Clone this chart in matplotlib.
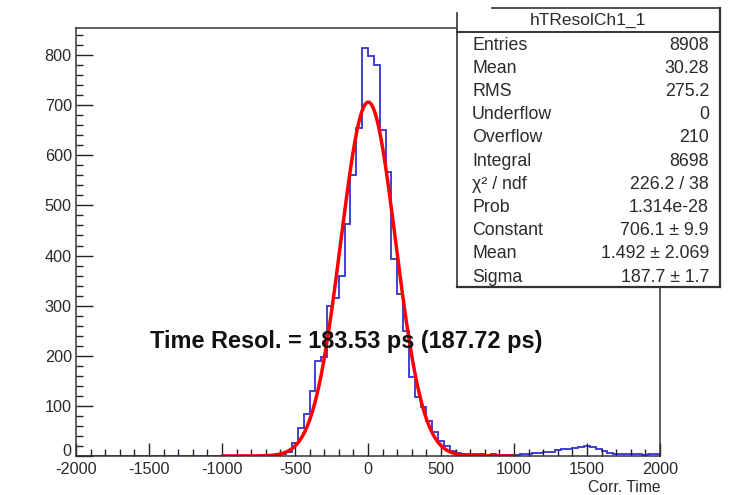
import numpy as np
import matplotlib
matplotlib.use('Agg')
import matplotlib.pyplot as plt
from matplotlib.lines import Line2D
from matplotlib.patches import Rectangle

plt.rcParams['font.family'] = ['Liberation Sans', 'DejaVu Sans']

# ---------------- data ----------------
bin_edges = np.arange(-2000, 2001, 40)
counts_left = [0] * 34 + [1, 3, 8, 25, 55, 84, 130, 190, 197, 300, 315, 360, 463, 560, 655, 815]
counts_right = [798, 781, 650, 567, 393, 323, 250, 157, 117, 97, 70, 47, 30, 20, 10, 6,
                4, 4, 3, 3, 2, 3, 2, 2, 2,
                2, 3, 4, 5, 6, 7, 8, 11, 13, 14, 16, 18, 19, 17, 14, 10, 6, 4, 4, 3, 3, 3, 2, 3, 3]
counts = np.array(counts_left + counts_right)

fit_constant = 706.1
fit_mean = 1.492
fit_sigma = 187.7
fit_range = (-1000, 1000)

xticks_major = [-2000, -1500, -1000, -500, 0, 500, 1000, 1500, 2000]
xtick_labels = ['-2000', '-1500', '-1000', '-500', '0', '500', '1000', '1500', '2000']
yticks_major = [0, 100, 200, 300, 400, 500, 600, 700, 800]
ytick_labels = ['0', '100', '200', '300', '400', '500', '600', '700', '800']

hist_title = 'hTResolCh1_1'
stat_names = ['Entries', 'Mean', 'RMS', 'Underflow', 'Overflow', 'Integral',
              'χ² / ndf', 'Prob', 'Constant', 'Mean', 'Sigma']
stat_values = ['8908', '30.28', '275.2', '0', '210', '8698', '226.2 / 38',
               '1.314e-28', '706.1 ± 9.9', '1.492 ± 2.069', '187.7 ± 1.7']
annotation = 'Time Resol. = 183.53 ps (187.72 ps)'
x_title = 'Corr. Time'

# ---------------- layout ----------------
W, H = 731, 495
fig = plt.figure(figsize=(W / 100, H / 100), dpi=100)


def fx(px):
    return px / W


def fy(py):
    return 1 - py / H


ax_l, ax_r, ax_t, ax_b = 76, 660, 28, 456
ax = fig.add_axes([fx(ax_l), fy(ax_b), (ax_r - ax_l) / W, (ax_b - ax_t) / H])

ax.stairs(counts, bin_edges, color='#3232d2', linewidth=1.3, baseline=0)

xf = np.linspace(fit_range[0], fit_range[1], 600)
yf = fit_constant * np.exp(-0.5 * ((xf - fit_mean) / fit_sigma) ** 2)
ax.plot(xf, yf, color='#ff0000', linewidth=2.5, solid_capstyle='round')

ax.set_xlim(-2000, 2000)
ax.set_ylim(0, 854)

lab_color = '#2a2a2a'
ax.set_xticks(xticks_major)
ax.set_xticklabels(xtick_labels)
ax.set_xticks(np.arange(-2000, 2001, 100), minor=True)
ax.set_yticks(yticks_major)
# the "0" label is drawn separately, slightly raised, so it does not collide with "-2000"
ax.set_yticklabels([''] + ytick_labels[1:])
ax.set_yticks(np.arange(0, 854, 20), minor=True)
ax.annotate(ytick_labels[0], xy=(0, yticks_major[0]), xycoords=('axes fraction', 'data'),
            xytext=(-3, 3.5), textcoords='offset points', ha='right', va='center',
            fontsize=11.7, color=lab_color)

ax.tick_params(axis='x', which='major', direction='in', length=9.5, width=1.0,
               labelsize=11.7, pad=4.5, colors='#222222', labelcolor=lab_color)
ax.tick_params(axis='x', which='minor', direction='in', length=4.7, width=1.0, colors='#222222')
ax.tick_params(axis='y', which='major', direction='in', length=12, width=1.0,
               labelsize=11.7, pad=3, colors='#222222', labelcolor=lab_color)
ax.tick_params(axis='y', which='minor', direction='in', length=5, width=1.0, colors='#222222')
ax.tick_params(top=False, right=False, which='both')
for s in ax.spines.values():
    s.set_linewidth(1.1)
    s.set_color('#333333')

ax.text(-150, 228, annotation, ha='center', va='center', fontsize=16.9,
        fontweight='bold', color='#111111')

fig.text(fx(661), fy(488), x_title, ha='right', va='center', fontsize=11.3, color=lab_color)

# ---------------- stats box ----------------
bx_l, bx_r, bx_t, bx_sep, bx_b = 457, 720, 8, 32, 287
fig.add_artist(Rectangle((fx(bx_l), fy(bx_b)), (bx_r - bx_l) / W, (bx_b - bx_t) / H,
                         transform=fig.transFigure, facecolor='white', edgecolor='none', zorder=5))


def fline(x0, y0, x1, y1, lw=1.2):
    fig.add_artist(Line2D([fx(x0), fx(x1)], [fy(y0), fy(y1)], transform=fig.transFigure,
                          color='#333333', linewidth=lw, zorder=6, solid_capstyle='projecting'))


fline(492, bx_t, bx_r, bx_t)
fline(bx_r, bx_t, bx_r, bx_b, lw=1.6)
fline(bx_l, 13, bx_l, bx_b)
fline(bx_l, bx_sep, bx_r, bx_sep, lw=1.4)
fline(bx_l, bx_b, bx_r, bx_b, lw=1.6)

fig.text(fx(588), fy(20), hist_title, ha='center', va='center', fontsize=12.5,
         color=lab_color, zorder=7)

row0, dy = 45, 23.2
for i, (n, v) in enumerate(zip(stat_names, stat_values)):
    yy = row0 + i * dy
    fig.text(fx(472), fy(yy), n, ha='left', va='center', fontsize=12.8, color=lab_color, zorder=7)
    fig.text(fx(709), fy(yy), v, ha='right', va='center', fontsize=12.8, color=lab_color, zorder=7)

fig.savefig('out.png', dpi=100)
